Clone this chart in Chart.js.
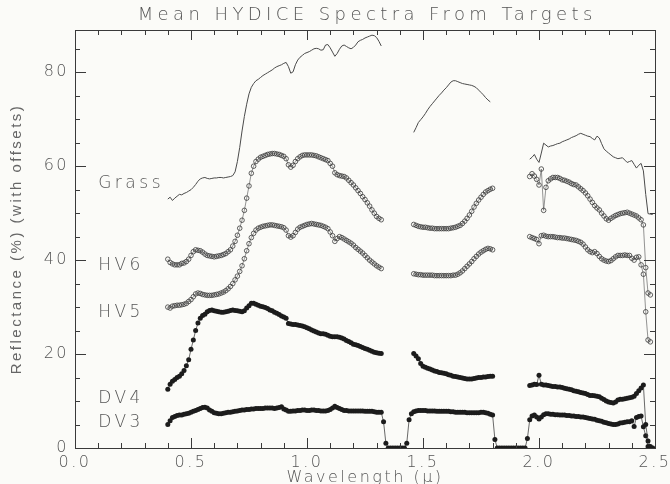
<!DOCTYPE html>
<html>
<head>
<meta charset="utf-8">
<title>Mean HYDICE Spectra From Targets</title>
<script src="https://cdn.jsdelivr.net/npm/chart.js@4.4.1/dist/chart.umd.min.js"></script>
<style>
    html, body { margin: 0; padding: 0; background: #fbfbf8; }
    canvas { display: block; }
</style>
</head>
<body>
<canvas id="spectra" width="670" height="484"></canvas>
<script>
// band centres (microns), one value per band in every series below, null = water band gap
const wavelengths = [
    0.40, 0.41, 0.42, 0.43, 0.44, 0.45, 0.46, 0.47, 0.48, 0.49,
    0.50, 0.51, 0.52, 0.53, 0.54, 0.55, 0.56, 0.57, 0.58, 0.59,
    0.60, 0.61, 0.62, 0.63, 0.64, 0.65, 0.66, 0.67, 0.68, 0.69,
    0.70, 0.71, 0.72, 0.73, 0.74, 0.75, 0.76, 0.77, 0.78, 0.79,
    0.80, 0.81, 0.82, 0.83, 0.84, 0.85, 0.86, 0.87, 0.88, 0.89,
    0.90, 0.91, 0.92, 0.93, 0.94, 0.95, 0.96, 0.97, 0.98, 0.99,
    1.00, 1.01, 1.02, 1.03, 1.04, 1.05, 1.06, 1.07, 1.08, 1.09,
    1.10, 1.11, 1.12, 1.13, 1.14, 1.15, 1.16, 1.17, 1.18, 1.19,
    1.20, 1.21, 1.22, 1.23, 1.24, 1.25, 1.26, 1.27, 1.28, 1.29,
    1.30, 1.31, 1.32, 1.33, 1.34, 1.35, 1.36, 1.37, 1.38, 1.39,
    1.40, 1.41, 1.42, 1.43, 1.44, 1.45, 1.46, 1.47, 1.48, 1.49,
    1.50, 1.51, 1.52, 1.53, 1.54, 1.55, 1.56, 1.57, 1.58, 1.59,
    1.60, 1.61, 1.62, 1.63, 1.64, 1.65, 1.66, 1.67, 1.68, 1.69,
    1.70, 1.71, 1.72, 1.73, 1.74, 1.75, 1.76, 1.77, 1.78, 1.79,
    1.80, 1.81, 1.82, 1.83, 1.84, 1.85, 1.86, 1.87, 1.88, 1.89,
    1.90, 1.91, 1.92, 1.93, 1.94, 1.95, 1.96, 1.97, 1.98, 1.99,
    2.00, 2.01, 2.02, 2.03, 2.04, 2.05, 2.06, 2.07, 2.08, 2.09,
    2.10, 2.11, 2.12, 2.13, 2.14, 2.15, 2.16, 2.17, 2.18, 2.19,
    2.20, 2.21, 2.22, 2.23, 2.24, 2.25, 2.26, 2.27, 2.28, 2.29,
    2.30, 2.31, 2.32, 2.33, 2.34, 2.35, 2.36, 2.37, 2.38, 2.39,
    2.40, 2.41, 2.42, 2.43, 2.44, 2.45, 2.46, 2.47, 2.48, 2.49
];

const grass = [
    53.0, 53.4, 52.7, 53.2, 53.6, 54.0, 53.9, 54.2, 54.4, 54.7,
    55.0, 55.5, 56.1, 56.8, 57.3, 57.5, 57.6, 57.4, 57.3, 57.4,
    57.5, 57.5, 57.6, 57.6, 57.5, 57.6, 57.7, 57.8, 58.0, 58.8,
    61.0, 64.0, 67.5, 70.6, 73.2, 75.4, 76.8, 77.6, 78.2, 78.5,
    78.9, 79.3, 79.6, 79.9, 80.2, 80.5, 80.9, 81.2, 81.4, 81.6,
    81.9, 82.1, 81.2, 79.8, 80.1, 81.6, 82.6, 83.2, 83.6, 84.0,
    84.2, 84.4, 84.7, 85.0, 85.1, 85.0, 84.7, 84.8, 85.8, 85.9,
    85.2, 84.3, 83.4, 84.0, 84.9, 85.6, 85.8, 85.5, 85.2, 85.0,
    85.3, 85.8, 86.5, 86.8, 87.0, 87.3, 87.5, 87.7, 87.9, 87.8,
    87.4, 86.6, 85.6, null, null, null, null, null, null, null,
    null, null, null, null, null, null, 67.2, 68.2, 69.3, 69.9,
    70.5, 71.2, 72.0, 72.7, 73.3, 73.9, 74.5, 75.1, 75.6, 76.2,
    76.7, 77.3, 77.9, 78.2, 78.2, 78.0, 77.8, 77.6, 77.5, 77.4,
    77.3, 77.2, 77.0, 76.7, 76.2, 75.7, 75.2, 74.6, 74.1, 73.7,
    null, null, null, null, null, null, null, null, null, null,
    null, null, null, null, null, null, 61.5, 61.9, 62.5, 61.5,
    60.8, 62.8, 64.9, 64.5, 64.1, 64.3, 64.4, 64.6, 64.8, 64.9,
    65.2, 65.4, 65.6, 65.8, 66.1, 66.3, 66.5, 66.8, 67.0, 66.8,
    66.6, 66.4, 66.3, 65.9, 65.6, 66.4, 66.0, 64.8, 63.7, 63.2,
    62.8, 62.4, 62.0, 61.8, 61.6, 61.7, 61.8, 61.3, 60.8, 61.0,
    61.2, 60.4, 59.6, 60.2, 60.6, 59.0, 54.0, 49.9, 49.8, 49.7
];

const hv6 = [
    40.2, 39.5, 39.2, 39.0, 39.0, 39.0, 39.3, 39.4, 39.7, 40.2,
    41.0, 41.8, 42.2, 42.1, 42.0, 41.7, 41.3, 41.0, 40.9, 40.8,
    40.7, 40.8, 40.9, 41.0, 41.2, 41.4, 41.8, 42.2, 43.0, 44.0,
    45.3, 46.8, 48.5, 50.6, 53.2, 55.8, 58.5, 60.0, 61.0, 61.5,
    61.9, 62.1, 62.3, 62.5, 62.6, 62.7, 62.7, 62.6, 62.5, 62.3,
    62.1, 61.6, 60.3, 59.8, 60.2, 61.0, 61.6, 62.0, 62.3, 62.4,
    62.4, 62.4, 62.4, 62.3, 62.2, 62.0, 61.8, 61.6, 61.4, 61.2,
    60.6, 60.0, 58.6, 58.2, 58.0, 57.9, 57.8, 57.5, 57.0, 56.5,
    56.0, 55.4, 54.8, 54.2, 53.5, 52.9, 52.2, 51.5, 50.7, 50.0,
    49.3, 48.9, 48.6, null, null, null, null, null, null, null,
    null, null, null, null, null, null, 47.6, 47.4, 47.2, 47.1,
    47.0, 47.0, 46.9, 46.8, 46.8, 46.7, 46.7, 46.7, 46.7, 46.7,
    46.7, 46.7, 46.8, 46.9, 47.0, 47.2, 47.4, 47.8, 48.3, 48.9,
    49.6, 50.4, 51.3, 52.1, 52.8, 53.4, 54.0, 54.5, 54.8, 55.1,
    55.3, null, null, null, null, null, null, null, null, null,
    null, null, null, null, null, null, 57.8, 58.4, 57.9, 57.2,
    56.0, 59.4, 50.6, 55.5, 56.9, 57.3, 57.6, 57.6, 57.6, 57.4,
    57.1, 57.0, 56.8, 56.6, 56.3, 56.1, 56.0, 55.6, 55.2, 54.8,
    54.3, 53.7, 53.0, 52.3, 51.6, 51.1, 50.7, 50.0, 49.4, 48.8,
    48.5, 48.9, 49.2, 49.5, 49.7, 49.9, 50.0, 50.1, 50.2, 50.0,
    49.8, 49.6, 49.4, 49.0, 48.6, 47.5, 38.4, 33.0, 32.6, null
];

const hv5 = [
    30.0, 29.8, 30.2, 30.3, 30.4, 30.4, 30.5, 30.6, 30.8, 31.2,
    31.6, 32.2, 32.8, 33.0, 32.9, 32.7, 32.6, 32.5, 32.5, 32.5,
    32.6, 32.7, 32.8, 33.0, 33.2, 33.5, 33.9, 34.4, 35.0, 35.8,
    36.6, 37.6, 38.8, 40.3, 42.0, 43.5, 44.8, 45.7, 46.4, 46.8,
    47.0, 47.2, 47.3, 47.4, 47.5, 47.5, 47.4, 47.3, 47.2, 47.1,
    46.9, 46.4, 45.2, 44.9, 45.2, 45.9, 46.6, 47.0, 47.2, 47.4,
    47.6, 47.7, 47.8, 47.7, 47.6, 47.5, 47.4, 47.2, 47.0, 46.7,
    46.0, 45.2, 44.0, 44.6, 45.0, 44.8, 44.5, 44.2, 43.9, 43.6,
    43.2, 42.7, 42.3, 41.9, 41.5, 41.0, 40.5, 40.0, 39.6, 39.2,
    38.8, 38.5, 38.2, null, null, null, null, null, null, null,
    null, null, null, null, null, null, 37.1, 37.0, 36.9, 36.9,
    36.8, 36.8, 36.8, 36.8, 36.8, 36.7, 36.7, 36.7, 36.7, 36.7,
    36.7, 36.7, 36.7, 36.8, 36.8, 37.0, 37.3, 37.7, 38.2, 38.7,
    39.2, 39.7, 40.3, 40.8, 41.3, 41.7, 42.0, 42.3, 42.5, 42.4,
    42.2, null, null, null, null, null, null, null, null, null,
    null, null, null, null, null, null, 45.0, 44.8, 44.6, 44.4,
    43.5, 45.2, 45.3, 45.1, 45.0, 45.0, 45.0, 44.9, 44.8, 44.8,
    44.7, 44.7, 44.6, 44.5, 44.4, 44.3, 44.2, 44.0, 43.8, 43.4,
    42.8, 42.2, 41.8, 41.6, 41.8, 41.4, 40.8, 40.3, 40.0, 39.8,
    39.7, 39.9, 40.3, 40.7, 41.0, 41.0, 41.0, 41.1, 41.0, 41.0,
    40.4, 40.0, 40.6, 40.7, 39.0, 37.0, 29.0, 23.0, 22.6, null
];

const dv4 = [
    12.5, 13.6, 14.2, 14.6, 15.0, 15.3, 15.8, 16.5, 17.5, 18.8,
    21.0, 23.0, 25.0, 26.6, 27.6, 28.2, 28.5, 29.0, 29.3, 29.4,
    29.2, 29.1, 29.0, 28.9, 28.9, 29.0, 29.1, 29.3, 29.4, 29.3,
    29.2, 29.1, 29.0, 29.2, 29.8, 30.3, 30.8, 30.8, 30.6, 30.4,
    30.2, 30.1, 29.9, 29.7, 29.4, 29.2, 28.9, 28.7, 28.4, 28.1,
    27.9, 27.6, 26.5, 26.4, 26.3, 26.3, 26.2, 26.1, 26.0, 25.8,
    25.6, 25.4, 25.1, 24.9, 24.7, 24.5, 24.3, 24.3, 24.2, 24.0,
    23.8, 23.7, 23.7, 23.7, 23.6, 23.4, 23.2, 22.9, 22.7, 22.4,
    22.1, 22.0, 21.8, 21.6, 21.4, 21.2, 21.0, 20.8, 20.6, 20.4,
    20.3, 20.2, 20.1, null, null, null, null, null, null, null,
    null, null, null, null, null, null, 20.1, 19.6, 19.0, 18.0,
    17.4, 17.2, 17.0, 16.8, 16.6, 16.4, 16.3, 16.1, 16.0, 15.9,
    15.8, 15.6, 15.5, 15.3, 15.2, 15.1, 15.0, 14.9, 14.8, 14.7,
    14.7, 14.7, 14.8, 14.9, 15.0, 15.0, 15.1, 15.1, 15.2, 15.3,
    15.3, null, null, null, null, null, null, null, null, null,
    null, null, null, null, null, null, 13.3, 13.4, 13.6, 13.5,
    15.5, 13.6, 13.4, 13.4, 13.3, 13.2, 13.1, 13.1, 13.0, 13.0,
    12.9, 12.7, 12.6, 12.5, 12.4, 12.2, 12.1, 12.0, 11.8, 11.7,
    11.6, 11.4, 11.2, 11.2, 11.1, 11.0, 10.9, 10.6, 10.3, 10.0,
    9.8, 9.7, 9.6, 9.8, 10.2, 10.4, 10.4, 10.5, 10.6, 10.7,
    10.8, 11.0, 11.6, 12.2, 12.8, 13.4, 5.0, 1.5, 0.3, null
];

const dv3 = [
    5.0, 5.8, 6.5, 6.7, 6.9, 7.0, 7.0, 7.2, 7.3, 7.4,
    7.6, 7.8, 8.0, 8.2, 8.4, 8.6, 8.7, 8.5, 8.1, 7.8,
    7.5, 7.4, 7.3, 7.3, 7.4, 7.5, 7.6, 7.6, 7.7, 7.8,
    7.9, 8.0, 8.1, 8.1, 8.2, 8.2, 8.3, 8.3, 8.4, 8.4,
    8.4, 8.4, 8.5, 8.5, 8.5, 8.5, 8.4, 8.5, 8.6, 8.8,
    8.3, 8.1, 7.8, 7.8, 7.9, 7.9, 8.0, 8.0, 8.1, 8.1,
    8.0, 8.0, 8.1, 8.1, 8.0, 8.0, 7.9, 7.9, 7.9, 8.0,
    8.2, 8.5, 8.9, 8.6, 8.4, 8.2, 8.0, 8.0, 7.9, 7.9,
    7.9, 7.9, 7.9, 7.9, 7.9, 7.8, 7.8, 7.8, 7.8, 7.7,
    7.6, 7.6, 7.6, 5.6, 1.0, 0, 0, 0, 0, 0,
    0, 0, 0, 1.0, 6.0, 7.3, 7.7, 7.9, 8.0, 8.0,
    8.0, 8.0, 7.9, 7.9, 7.9, 7.9, 7.8, 7.8, 7.8, 7.8,
    7.8, 7.8, 7.7, 7.7, 7.6, 7.6, 7.6, 7.6, 7.6, 7.5,
    7.5, 7.5, 7.5, 7.5, 7.5, 7.6, 7.6, 7.5, 7.4, 7.2,
    7.0, 1.8, 0, 0, 0, 0, 0, 0, 0, 0,
    0, 0, 0, 0, 0, 2.0, 6.0, 6.8, 7.0, 6.6,
    6.2, 6.6, 7.1, 7.3, 7.3, 7.2, 7.2, 7.1, 7.1, 7.0,
    7.0, 7.0, 6.9, 6.9, 6.8, 6.8, 6.7, 6.7, 6.6, 6.6,
    6.5, 6.4, 6.3, 6.2, 6.1, 5.9, 5.8, 5.7, 5.5, 5.4,
    5.2, 5.1, 5.0, 5.0, 5.1, 5.3, 5.4, 5.5, 5.6, 5.6,
    5.8, 4.6, 6.5, 6.7, 6.8, 4.5, 2.6, 0.3, 0, 0
];

const xTicks = [0, 0.5, 1.0, 1.5, 2.0, 2.5];
const yTicks = [0, 20, 40, 60, 80];

const targetNames = ['Grass', 'HV6', 'HV5', 'DV4', 'DV3'];

// where the names are written, in data units (wavelength, reflectance)
const nameX = 0.10;
const nameY = [56.4, 38.9, 28.9, 10.6, 5.5];

const TITLE = 'Mean HYDICE Spectra From Targets';
const TEXT = '#555';
const INK = '#3a3a3a';
const FAMILY = '"DejaVu Sans", sans-serif';

function toPoints(values) {
    return wavelengths.map((w, i) => ({ x: w, y: values[i] }));
}

function plainLine(values) {
    return {
        data: toPoints(values),
        borderColor: '#4a4a4a',
        borderWidth: 1,
        pointRadius: 0
    };
}

function circleLine(values) {
    return {
        data: toPoints(values),
        borderColor: '#666',
        borderWidth: 0.7,
        pointRadius: 2.3,
        pointBorderWidth: 0.8,
        pointBorderColor: INK,
        pointBackgroundColor: 'rgba(0,0,0,0)'
    };
}

function dotLine(values) {
    return {
        data: toPoints(values),
        borderColor: '#444',
        borderWidth: 0.8,
        pointRadius: 2.5,
        pointBorderWidth: 0,
        pointBackgroundColor: '#1c1c1c'
    };
}

// box, inward ticks on all four sides, title and target names
const frame = {
    id: 'frame',

    beforeLayout(chart) {
        chart.ctx.letterSpacing = '2.5px';
    },

    beforeDraw(chart) {
        chart.ctx.letterSpacing = '2.5px';
    },

    afterDraw(chart) {
        const { ctx, chartArea: a } = chart;
        const x = chart.scales.x;
        const y = chart.scales.y;

        ctx.save();
        ctx.strokeStyle = INK;
        ctx.lineWidth = 1;
        ctx.strokeRect(Math.round(a.left) + 0.5, Math.round(a.top) + 0.5,
            Math.round(a.right - a.left), Math.round(a.bottom - a.top));

        ctx.beginPath();
        for (let i = 0; i <= 25; i++) {
            const px = Math.round(x.getPixelForValue(i / 10)) + 0.5;
            const len = i % 5 === 0 ? 10 : 5;
            ctx.moveTo(px, a.bottom);
            ctx.lineTo(px, a.bottom - len);
            ctx.moveTo(px, a.top);
            ctx.lineTo(px, a.top + len);
        }
        for (let v = 0; v <= 85; v += 5) {
            const py = Math.round(y.getPixelForValue(v)) + 0.5;
            const len = v % 20 === 0 ? 11 : 5;
            ctx.moveTo(a.left, py);
            ctx.lineTo(a.left + len, py);
            ctx.moveTo(a.right, py);
            ctx.lineTo(a.right - len, py);
        }
        ctx.stroke();

        // title: spread so it runs from above 0.27 to above 2.23 like the original
        ctx.fillStyle = TEXT;
        ctx.font = '200 18px ' + FAMILY;
        ctx.textBaseline = 'middle';
        ctx.textAlign = 'left';
        ctx.letterSpacing = '0px';
        const left = x.getPixelForValue(0.27);
        const span = x.getPixelForValue(2.23) - left;
        const plain = ctx.measureText(TITLE).width;
        ctx.letterSpacing = ((span - plain) / (TITLE.length - 1)) + 'px';
        ctx.fillText(TITLE, left, 15);

        ctx.font = '200 17px ' + FAMILY;
        ctx.letterSpacing = '3.5px';
        targetNames.forEach((name, i) => {
            ctx.fillText(name, x.getPixelForValue(nameX), y.getPixelForValue(nameY[i]));
        });
        ctx.restore();
    }
};

new Chart(
    document.getElementById('spectra'),
    {
        type: 'line',

        data: {
            datasets: [
                plainLine(grass),
                circleLine(hv6),
                circleLine(hv5),
                dotLine(dv4),
                dotLine(dv3)
            ]
        },

        plugins: [frame],

        options: {
            responsive: false,
            animation: false,
            devicePixelRatio: 1,
            spanGaps: false,
            layout: {
                padding: { top: 30, right: 15, left: 0, bottom: 0 }
            },
            plugins: {
                legend: { display: false },
                tooltip: { enabled: false }
            },
            scales: {
                x: {
                    type: 'linear',
                    min: 0,
                    max: 2.5,
                    afterBuildTicks: scale => {
                        scale.ticks = xTicks.map(v => ({ value: v }));
                    },
                    afterFit: scale => {
                        scale.height = 36;
                        scale.paddingLeft = 0;
                        scale.paddingRight = 0;
                    },
                    grid: { display: false, drawTicks: false },
                    border: { display: false },
                    ticks: {
                        padding: 5,
                        color: TEXT,
                        maxRotation: 0,
                        autoSkip: false,
                        font: { family: FAMILY, size: 16, weight: '200' },
                        callback: v => v.toFixed(1)
                    },
                    title: {
                        display: true,
                        text: 'Wavelength (\u03bc)',
                        color: TEXT,
                        padding: { top: 0, bottom: -2 },
                        font: { family: FAMILY, size: 16, weight: '200', lineHeight: 1 }
                    }
                },
                y: {
                    min: 0,
                    max: 89,
                    afterBuildTicks: scale => {
                        scale.ticks = yTicks.map(v => ({ value: v }));
                    },
                    afterFit: scale => {
                        scale.width = 75;
                    },
                    grid: { display: false, drawTicks: false },
                    border: { display: false },
                    ticks: {
                        padding: 6,
                        color: TEXT,
                        font: { family: FAMILY, size: 16, weight: '200' }
                    },
                    title: {
                        display: true,
                        text: 'Reflectance (%) (with offsets)',
                        color: '#666',
                        padding: { top: 8, bottom: 0 },
                        font: { family: '"Liberation Sans", sans-serif', size: 15 }
                    }
                }
            }
        }
    }
);
</script>
</body>
</html>
